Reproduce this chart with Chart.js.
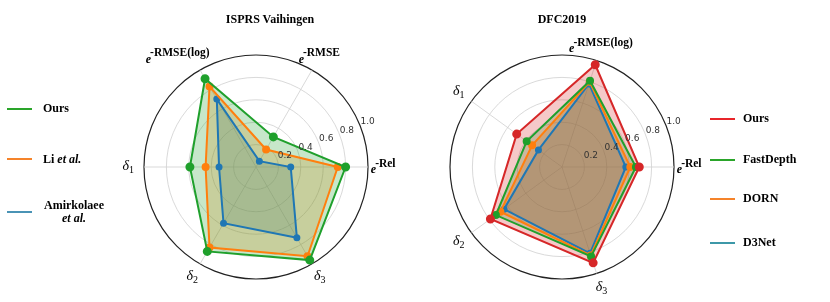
<!DOCTYPE html>
<html lang="en">
<head>
<meta charset="UTF-8">
<title>ISPRS Vaihingen / DFC2019 radar</title>
<script src="https://cdn.jsdelivr.net/npm/chart.js@4.4.0/dist/chart.umd.min.js"></script>
<style>
  body { margin: 0; background: #fff; }
  #wrap { position: relative; width: 830px; height: 302px; overflow: hidden; font-family: "Liberation Serif", serif; }
  canvas { position: absolute; left: 0; top: 0; }
  .title { position: absolute; top: 12px; font-weight: bold; font-size: 12px; transform: translateX(-50%); white-space: nowrap; }
  .leg { position: absolute; font-weight: bold; font-size: 12px; line-height: 13px; white-space: nowrap; }
  .leg i { font-style: italic; }
  .line { position: absolute; height: 2px; width: 25px; }
</style>
</head>
<body>
<div id="wrap">
  <canvas id="ispChart" width="830" height="302"></canvas>
  <canvas id="dfcChart" width="830" height="302"></canvas>

  <div class="title" style="left:270px">ISPRS Vaihingen</div>
  <div class="title" style="left:562px">DFC2019</div>

  <!-- left legend -->
  <div class="line" style="left:7px;top:108px;background:#2aa52a"></div>
  <div class="leg" style="left:43px;top:102px">Ours</div>
  <div class="line" style="left:7px;top:158px;background:#f5832a"></div>
  <div class="leg" style="left:43px;top:153px">Li <i>et al.</i></div>
  <div class="line" style="left:7px;top:211px;background:#4a93b5"></div>
  <div class="leg" style="left:43px;top:199px;width:62px;text-align:center">Amirkolaee<br><i>et al.</i></div>

  <!-- right legend -->
  <div class="line" style="left:710px;top:118px;background:#e8252a"></div>
  <div class="leg" style="left:743px;top:112px">Ours</div>
  <div class="line" style="left:710px;top:159px;background:#2aa52a"></div>
  <div class="leg" style="left:743px;top:153px">FastDepth</div>
  <div class="line" style="left:710px;top:198px;background:#f5832a"></div>
  <div class="leg" style="left:743px;top:192px">DORN</div>
  <div class="line" style="left:710px;top:242px;background:#3d98a8"></div>
  <div class="leg" style="left:743px;top:236px">D3Net</div>
</div>

<script>
// axes are listed clockwise starting from the right (startAngle 90)
const ispLabels = ['e-Rel', 'δ3', 'δ2', 'δ1', 'e-RMSE(log)', 'e-RMSE'];
const ispOurs = [0.80, 0.96, 0.87, 0.59, 0.91, 0.31];
const ispLi   = [0.73, 0.92, 0.83, 0.45, 0.83, 0.18];
const ispAmir = [0.31, 0.73, 0.58, 0.33, 0.70, 0.06];

const dfcLabels = ['e-Rel', 'δ3', 'δ2', 'δ1', 'e-RMSE(log)'];
const dfcOurs      = [0.69, 0.90, 0.79, 0.50, 0.96];
const dfcFastDepth = [0.66, 0.84, 0.73, 0.39, 0.81];
const dfcDorn      = [0.61, 0.83, 0.68, 0.33, 0.80];
const dfcD3Net     = [0.57, 0.81, 0.64, 0.26, 0.78];

const tickValues = [0.2, 0.4, 0.6, 0.8, 1.0];
const tickLabels = ['0.2', '0.4', '0.6', '0.8', '1.0'];

const GREEN = '31,160,44', ORANGE = '255,127,14', BLUE = '31,119,180', RED = '214,39,40';

function ds(label, data, rgb, radius) {
    return {
        label: label,
        data: data,
        borderColor: 'rgb(' + rgb + ')',
        backgroundColor: 'rgba(' + rgb + ',0.25)',
        pointBackgroundColor: 'rgb(' + rgb + ')',
        pointBorderColor: 'rgb(' + rgb + ')',
        borderWidth: 2,
        pointRadius: radius,
        fill: true
    };
}

// draws an axis label: italic e with raised bold text, or delta with subscript
function drawAxisLabel(ctx, text, x, y) {
    ctx.textAlign = 'left';
    ctx.textBaseline = 'middle';
    ctx.fillStyle = '#000';
    if (text.startsWith('e')) {
        const rest = text.slice(1);
        ctx.font = 'bold italic 12px "Liberation Serif"';
        const we = ctx.measureText('e').width;
        ctx.font = 'bold 11.5px "Liberation Serif"';
        const wr = ctx.measureText(rest).width;
        const x0 = x - (we + wr) / 2;
        ctx.font = 'bold italic 12px "Liberation Serif"';
        ctx.fillText('e', x0, y + 3);
        ctx.font = 'bold 11.5px "Liberation Serif"';
        ctx.fillText(rest, x0 + we - 1, y - 3);
    } else {
        const sub = text.slice(1);
        ctx.font = 'italic 14px "Liberation Serif"';
        const wd = ctx.measureText('δ').width;
        ctx.font = '10px "Liberation Serif"';
        const ws = ctx.measureText(sub).width;
        const x0 = x - (wd + ws) / 2;
        ctx.font = 'italic 14px "Liberation Serif"';
        ctx.fillText('δ', x0, y - 1);
        ctx.font = '10px "Liberation Serif"';
        ctx.fillText(sub, x0 + wd, y + 3);
    }
}

const polarText = {
    id: 'polarText',
    afterDraw(chart, args, opts) {
        const scale = chart.scales.r;
        const ctx = chart.ctx;
        ctx.save();
        // radial tick labels along 22.5 degrees, like matplotlib
        ctx.font = '9px "DejaVu Sans"';
        ctx.fillStyle = '#333';
        ctx.textAlign = 'left';
        ctx.textBaseline = 'bottom';
        const a = -22.5 * Math.PI / 180;
        tickValues.forEach((v, i) => {
            const d = scale.getDistanceFromCenterForValue(v);
            ctx.fillText(tickLabels[i], scale.xCenter + d * Math.cos(a) + 1, scale.yCenter + d * Math.sin(a) + 2);
        });
        // axis labels
        chart.data.labels.forEach((lab, i) => {
            const p = scale.getPointPositionForValue(i, opts.labelRadius);
            const nudge = (opts.nudge && opts.nudge[i]) || 0;
            drawAxisLabel(ctx, lab, p.x + nudge, p.y);
        });
        ctx.restore();
    }
};

function makeRadar(id, labels, datasets, padding, nudge) {
    return new Chart(document.getElementById(id), {
        type: 'radar',
        data: { labels: labels, datasets: datasets },
        options: {
            responsive: false,
            animation: false,
            layout: { padding: padding },
            elements: { line: { tension: 0 } },
            plugins: {
                legend: { display: false },
                tooltip: { enabled: false },
                filler: { drawTime: 'beforeDatasetsDraw' },
                polarText: { labelRadius: 1.14, nudge: nudge }
            },
            scales: {
                r: {
                    min: 0,
                    max: 1,
                    startAngle: 90,
                    ticks: { stepSize: 0.2, display: false },
                    pointLabels: { display: false },
                    angleLines: { color: '#cfcfcf', lineWidth: 0.8 },
                    grid: {
                        circular: true,
                        color: ctx => ctx.tick && ctx.tick.value >= 1 ? '#222' : '#cfcfcf',
                        lineWidth: ctx => ctx.tick && ctx.tick.value >= 1 ? 1.2 : 0.8
                    }
                }
            }
        },
        plugins: [polarText]
    });
}

makeRadar('ispChart', ispLabels, [
    ds('Ours', ispOurs, GREEN, 3.5),
    ds('Li et al.', ispLi, ORANGE, 3),
    ds('Amirkolaee et al.', ispAmir, BLUE, 2.5)
], { left: 144, right: 462, top: 55, bottom: 23 }, { 4: -14 });

makeRadar('dfcChart', dfcLabels, [
    ds('Ours', dfcOurs, RED, 3.5),
    ds('FastDepth', dfcFastDepth, GREEN, 3),
    ds('DORN', dfcDorn, ORANGE, 3),
    ds('D3Net', dfcD3Net, BLUE, 2.5)
], { left: 450, right: 156, top: 55, bottom: 23 }, {});
</script>
</body>
</html>
